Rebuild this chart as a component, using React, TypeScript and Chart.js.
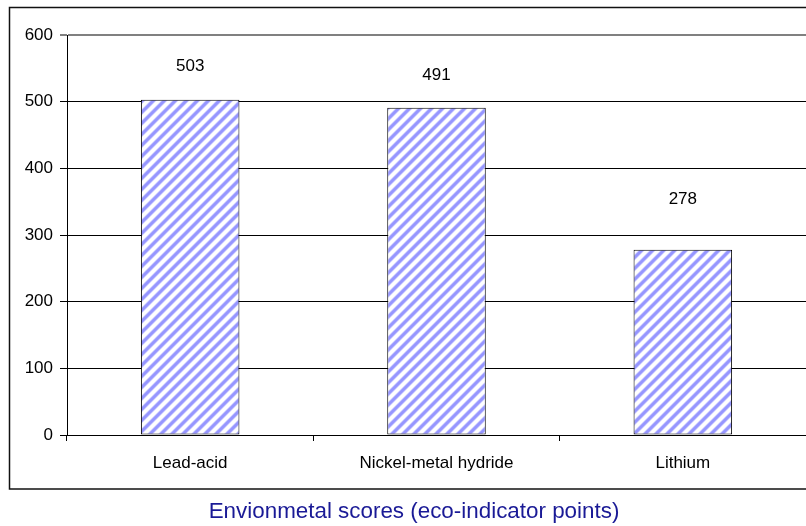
import React, { useEffect, useRef } from "react";
import { Chart, registerables } from "chart.js";

Chart.register(...registerables);

const categories = ["Lead-acid", "Nickel-metal hydride", "Lithium"];
const scores = [503, 491, 278];
const yTicks = [0, 100, 200, 300, 400, 500, 600];
const labelOffsets = [33, 32, 50];
const titleText = "Envionmetal scores (eco-indicator points)";

const FONT = "Arial, 'Liberation Sans', sans-serif";

function makePattern(): CanvasPattern | string {
  const p = 11;
  const c = document.createElement("canvas");
  c.width = p;
  c.height = p;
  const g = c.getContext("2d");
  if (!g) return "#9999ff";
  const img = g.createImageData(p, p);
  const stripe = [150, 150, 255];
  for (let y = 0; y < p; y++) {
    for (let x = 0; x < p; x++) {
      const s = (x + y) % p; // lines rising to the right
      const d = Math.min(s, p - s); // horizontal distance to stripe centre
      let a: number;
      if (d <= 1.5) a = 1;
      else if (d >= 3.5) a = 0;
      else a = (3.5 - d) / 2;
      const i = (y * p + x) * 4;
      img.data[i] = Math.round(255 + (stripe[0] - 255) * a);
      img.data[i + 1] = Math.round(255 + (stripe[1] - 255) * a);
      img.data[i + 2] = Math.round(255 + (stripe[2] - 255) * a);
      img.data[i + 3] = 255;
    }
  }
  g.putImageData(img, 0, 0);
  const pat = g.createPattern(c, "repeat");
  return pat || "#9999ff";
}

export default function App() {
  const ref = useRef<HTMLCanvasElement>(null);

  useEffect(() => {
    document.body.style.margin = "0";
    const canvas = ref.current;
    if (!canvas) return;
    const pattern = makePattern();

    const framePlugin = {
      id: "frame",
      beforeDraw(chart: any) {
        const ctx = chart.ctx;
        ctx.save();
        ctx.fillStyle = "#ffffff";
        ctx.fillRect(0, 0, chart.width, chart.height);
        ctx.strokeStyle = "#111111";
        ctx.lineWidth = 1.5;
        ctx.strokeRect(9.5, 7.5, 820, 481.5);
        ctx.restore();
      },
      afterDraw(chart: any) {
        const ctx = chart.ctx;
        ctx.save();
        ctx.fillStyle = "#1a1a96";
        ctx.font = `22.4px ${FONT}`;
        ctx.textAlign = "center";
        ctx.textBaseline = "alphabetic";
        ctx.fillText(titleText, 414, 518);
        ctx.restore();
      },
    };

    const valuePlugin = {
      id: "values",
      afterDatasetsDraw(chart: any) {
        const ctx = chart.ctx;
        const meta = chart.getDatasetMeta(0);
        ctx.save();
        ctx.fillStyle = "#000000";
        ctx.font = `17px ${FONT}`;
        ctx.textAlign = "center";
        ctx.textBaseline = "middle";
        meta.data.forEach((bar: any, i: number) => {
          ctx.fillText(String(scores[i]), bar.x, bar.y - labelOffsets[i]);
        });
        ctx.restore();
      },
    };

    const chart = new Chart(canvas, {
      type: "bar",
      data: {
        labels: categories,
        datasets: [
          {
            data: scores,
            backgroundColor: pattern as any,
            borderColor: "#000000",
            borderWidth: 1,
            borderSkipped: false,
            barPercentage: 0.4,
            categoryPercentage: 1,
          },
        ],
      },
      options: {
        responsive: false,
        animation: false,
        devicePixelRatio: 1,
        layout: { padding: { left: 0, top: 35, right: 0, bottom: 0 } },
        plugins: {
          legend: { display: false },
          title: { display: false },
          tooltip: { enabled: false },
        },
        scales: {
          x: {
            afterFit(scale: any) {
              scale.height = 91;
            },
            grid: {
              offset: true,
              drawOnChartArea: false,
              drawTicks: true,
              tickLength: 6,
              color: "#000000",
            },
            border: { display: true, color: "#000000", width: 1 },
            ticks: {
              color: "#000000",
              font: { family: FONT, size: 17 },
              padding: 12,
              maxRotation: 0,
            },
          },
          y: {
            min: yTicks[0],
            max: yTicks[yTicks.length - 1],
            afterFit(scale: any) {
              scale.width = 67;
            },
            afterBuildTicks(scale: any) {
              scale.ticks = yTicks.map((v) => ({ value: v }));
            },
            grid: {
              color: (c: any) => (c.tick && c.tick.value === 600 ? "#808080" : "#000000"),
              lineWidth: (c: any) => (c.tick && c.tick.value === 600 ? 2 : 1),
              tickLength: 7,
              drawTicks: true,
            },
            border: { display: true, color: "#000000", width: 1 },
            ticks: {
              color: "#000000",
              font: { family: FONT, size: 17 },
              padding: 7,
            },
          },
        },
      },
      plugins: [framePlugin, valuePlugin],
    });

    return () => chart.destroy();
  }, []);

  return <canvas ref={ref} width={806} height={526} style={{ display: "block", width: 806, height: 526 }} />;
}
